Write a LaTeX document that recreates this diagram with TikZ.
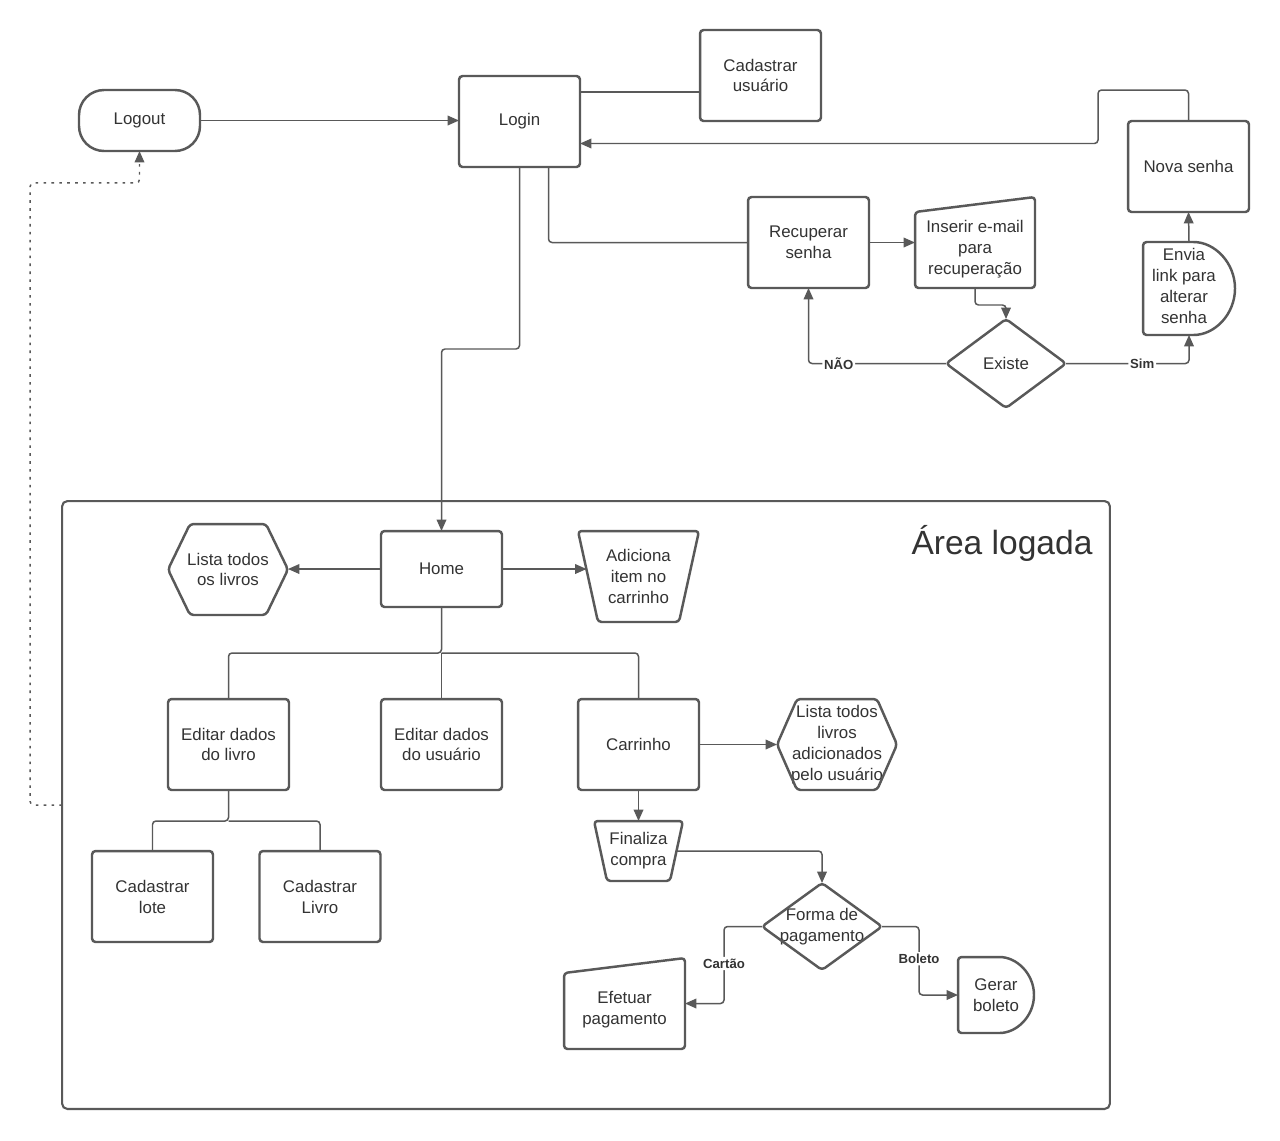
\documentclass[tikz,border=0pt]{standalone}
\usepackage{fontspec}
\setmainfont{Liberation Sans}
\usetikzlibrary{arrows.meta,calc}
\definecolor{linec}{HTML}{595959}
\definecolor{txtc}{HTML}{333333}
\tikzset{
  base/.style={inner sep=0pt, outer sep=0pt, text=txtc, align=center,
    font=\fontsize{9.6}{11.9}\selectfont},
  pbox/.style={base, draw=linec, line width=1.4pt, rounded corners=2pt,
    minimum width=2.42cm, minimum height=1.82cm},
  shp/.style={draw=linec, line width=1.4pt, rounded corners=2pt, line join=round},
  conn/.style={draw=linec, line width=0.85pt, rounded corners=2pt},
  arr/.style={conn, -{Triangle[length=6.5pt,width=5.5pt]}},
  dotarr/.style={arr, dash pattern=on 1.5pt off 3pt},
  lbl/.style={fill=white, inner sep=1pt, text=txtc,
    font=\bfseries\fontsize{7.5}{9}\selectfont},
}
\begin{document}
\begin{tikzpicture}[x=0.02cm, y=-0.02cm]
\useasboundingbox[fill=white] (0,0) rectangle (1280,1140);

% logged-in area frame
\node[base, draw=linec, line width=1.2pt, rounded corners=3pt,
  minimum width=20.96cm, minimum height=12.16cm] (area) at (586,805) {};
\node[base, font=\fontsize{19.1}{22}\selectfont] (areat) at (1002,543) {Área logada};

% top part: authentication
\node[base, draw=linec, line width=1.4pt, rounded corners=0.5cm,
  minimum width=2.42cm, minimum height=1.22cm] (logout) at (139.5,120.5) {Logout};
\node[pbox] (login) at (519.5,121.5) {Login};
\node[pbox] (cadu) at (760.5,75.5) {Cadastrar\\usuário};
\node[pbox] (nova) at (1188.5,166.5) {Nova senha};
\node[pbox] (recup) at (808.5,242.5) {Recuperar\\senha};

% manual input: e-mail
\node[base, minimum width=2.4cm, minimum height=1.82cm] (inserir) at (975,242.5) {};
\draw[shp] ([yshift=-0.3cm]inserir.north west) -- (inserir.north east)
  -- (inserir.south east) -- (inserir.south west) -- cycle;
\node[base] (inserirt) at (975,249) {Inserir e-mail\\para\\recuperação};

% decision: e-mail exists
\node[base, minimum width=2.4cm, minimum height=1.78cm] (existe) at (1006,363.5) {Existe};
\draw[shp] (existe.north) -- (existe.east) -- (existe.south) -- (existe.west) -- cycle;

% delay shape: send link
\node[base, minimum width=1.84cm, minimum height=1.86cm] (envia) at (1189,288.5) {};
\draw[shp] (envia.south west) -- (envia.north west) -- ++(47,0)
  arc[start angle=90, end angle=-90, x radius=0.9cm, y radius=0.93cm] -- cycle;
\node[base] (enviat) at (1184,286) {Envia\\link para\\alterar\\senha};

% connectors, top part
\draw[arr] (logout.east) -- (logout.east -| login.west);
\draw[conn] ([yshift=-0.32cm]login.north east) coordinate (lc) -- (lc -| cadu.west);
\coordinate (jn) at (1098,90);
\draw[arr] (nova.north) |- (jn) |- ([yshift=-0.44cm]login.east);
\draw[conn] ([xshift=0.58cm]login.south) |- (recup.west);
\draw[arr] (recup.east) -- (recup.east -| inserir.west);
\draw[arr] (inserir.south) -- ++(0,17) -| (existe.north);
\draw[arr] (existe.west) -| node[lbl, pos=0.39] {NÃO} (recup.south);
\draw[arr] (existe.east) -| node[lbl, pos=0.31] {Sim} (envia.south);
\draw[arr] (envia.north) -- (nova.south);

% logged-in area nodes
\node[pbox, minimum height=1.52cm] (home) at (441.5,569) {Home};

\node[base, minimum width=2.4cm, minimum height=1.82cm] (lista) at (228,569.5) {Lista todos\\os livros};
\draw[shp] ([xshift=0.44cm]lista.north west) -- ([xshift=-0.44cm]lista.north east)
  -- (lista.east) -- ([xshift=-0.44cm]lista.south east)
  -- ([xshift=0.44cm]lista.south west) -- (lista.west) -- cycle;

\node[base, minimum width=2.42cm, minimum height=1.82cm] (adic) at (638.5,576.5) {Adiciona\\item no\\carrinho};
\draw[shp] (adic.north west) -- (adic.north east) -- ([xshift=-0.4cm]adic.south east)
  -- ([xshift=0.4cm]adic.south west) -- cycle;

\node[pbox] (edl) at (228.5,744.5) {Editar dados\\do livro};
\node[pbox] (edu) at (441.5,744.5) {Editar dados\\do usuário};
\node[pbox] (carr) at (638.5,744.5) {Carrinho};

\node[base, minimum width=2.4cm, minimum height=1.82cm] (lista2) at (837,744.5) {Lista todos\\livros\\adicionados\\pelo usuário};
\draw[shp] ([xshift=0.4cm]lista2.north west) -- ([xshift=-0.4cm]lista2.north east)
  -- (lista2.east) -- ([xshift=-0.4cm]lista2.south east)
  -- ([xshift=0.4cm]lista2.south west) -- (lista2.west) -- cycle;

\node[base, minimum width=1.78cm, minimum height=1.2cm] (fin) at (638.5,851) {Finaliza\\compra};
\draw[shp] (fin.north west) -- (fin.north east) -- ([xshift=-0.26cm]fin.south east)
  -- ([xshift=0.26cm]fin.south west) -- cycle;

\node[base, minimum width=2.4cm, minimum height=1.74cm] (forma) at (822,926.5) {Forma de\\pagamento};
\draw[shp] (forma.north) -- (forma.east) -- (forma.south) -- (forma.west) -- cycle;

\node[base, minimum width=2.42cm, minimum height=1.82cm] (efet) at (624.5,1003.5) {};
\draw[shp] ([yshift=-0.3cm]efet.north west) -- (efet.north east)
  -- (efet.south east) -- (efet.south west) -- cycle;
\node[base] (efett) at (624.5,1010) {Efetuar\\pagamento};

\node[base, minimum width=1.52cm, minimum height=1.52cm] (gerar) at (996,995) {Gerar\\boleto};
\draw[shp] (gerar.south west) -- (gerar.north west) -- ++(38,0)
  arc[start angle=90, end angle=-90, x radius=0.76cm, y radius=0.76cm] -- cycle;

\node[pbox] (clote) at (152.5,896.5) {Cadastrar\\lote};
\node[pbox] (clivro) at (320,896.5) {Cadastrar\\Livro};

% connectors, logged-in area
\draw[arr] (login.south) -- ++(0,182) -| (home.north);
\draw[arr] (home.west) -- (home.west -| lista.east);
\draw[arr] (home.east) -- ([xshift=0.17cm]home.east -| adic.west);
\draw[conn] (home.south) -- ++(0,46) coordinate (hb) -| (edl.north);
\draw[conn] (hb) -- (edu.north);
\draw[conn] (hb) -| (carr.north);
\draw[arr] (carr.east) -- (carr.east -| lista2.west);
\draw[arr] (carr.south) -- (fin.north);
\draw[arr] ([xshift=-0.13cm]fin.east) -| (forma.north);
\draw[arr] (forma.west) -- ++(-38,0) |- node[lbl, pos=0.24] {Cartão} (efet.east);
\draw[arr] (forma.east) -- ++(37,0) |- node[lbl, pos=0.235] {Boleto} (gerar.west);
\draw[conn] (edl.south) -- ++(0,31) coordinate (eb) -| (clote.north);
\draw[conn] (eb) -| (clivro.north);

% logout path from the logged-in area
\coordinate (jd) at ([yshift=-0.64cm]logout.south);
\draw[dotarr] (area.west) -- ++(-32,0) |- (jd) -- (logout.south);
\end{tikzpicture}
\end{document}
